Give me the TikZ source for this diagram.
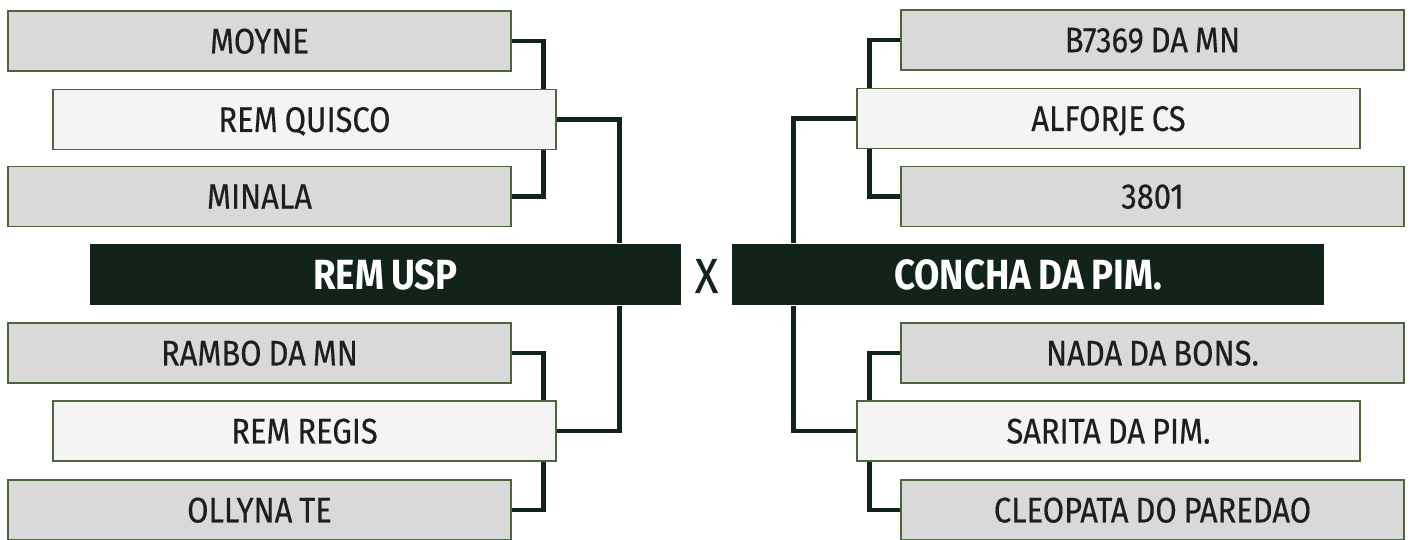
\documentclass[tikz,border=0pt]{standalone}
\usepackage{fontspec}
\setmainfont{Fira Sans}[FakeStretch=0.87, WordSpace=0.85, UprightFeatures={FakeBold=0.4}]
\definecolor{pinegreen}{HTML}{12241A}
\definecolor{edgegreen}{HTML}{4E6340}
\definecolor{boxgray}{HTML}{D9D9D9}
\definecolor{boxlight}{HTML}{F4F4F4}
\definecolor{inkgray}{HTML}{1E1E1E}
\tikzset{
	entry/.style={draw=edgegreen, line width=0.4pt, fill=boxgray, text=inkgray, inner sep=0pt, text depth=0pt,
		minimum width=5.03cm, minimum height=0.60cm, font=\fontsize{10.1}{12}\selectfont},
	winner/.style={entry, fill=boxlight},
	finalist/.style={fill=pinegreen, text=white, inner sep=0pt, text depth=0pt,
		minimum width=5.91cm, minimum height=0.61cm, font=\fontsize{12}{14}\selectfont\bfseries},
	link/.style={draw=pinegreen, line width=1.4pt}
}

\begin{document}
\begin{tikzpicture}[x=0.01cm, y=-0.01cm]
			%%%%% START %%%%%
			\useasboundingbox (0, 0) rectangle (1411, 540);
			
			% left bracket
			\node[entry] (moyne) at (259.5, 41) {MOYNE};
			\node[winner] (quisco) at (304.5, 119.5) {REM QUISCO};
			\node[entry] (minala) at (259.5, 196.5) {MINALA};
			\node[finalist] (remusp) at (385.5, 274.5) {REM USP};
			\node[entry] (rambo) at (259.5, 353) {RAMBO DA MN};
			\node[winner] (regis) at (304.5, 431) {REM REGIS};
			\node[entry] (ollyna) at (259.5, 510) {OLLYNA TE};
			
			% right bracket
			\node[entry] (bseven) at (1152.5, 40) {B7369 DA MN};
			\node[winner] (alforje) at (1108.5, 118.5) {ALFORJE CS};
			\node[entry] (bthree) at (1152.5, 196.5) {3801};
			\node[finalist] (concha) at (1028, 274.5) {CONCHA DA PIM.};
			\node[entry] (nada) at (1152.5, 353) {NADA DA BONS.};
			\node[winner] (sarita) at (1108.5, 431) {SARITA DA PIM.};
			\node[entry] (cleo) at (1152.5, 510) {CLEOPATA DO PAREDAO};
			
			\node[text=pinegreen, font=\fontsize{14}{16}\selectfont] (versus) at (706.5, 276) {X};
			
			\draw[link] (moyne.east) -| ([shift={(-13, 0)}]quisco.north east);
			\draw[link] (minala.east) -| ([shift={(-13, 0)}]quisco.south east);
			\draw[link] (rambo.east) -| ([shift={(-13, 0)}]regis.north east);
			\draw[link] (ollyna.east) -| ([shift={(-13, 0)}]regis.south east);
			\draw[link] (quisco.east) -| ([shift={(-62, 0)}]remusp.north east);
			\draw[link] (regis.east) -| ([shift={(-62, 0)}]remusp.south east);
			
			\draw[link] (bseven.west) -| ([shift={(13, 0)}]alforje.north west);
			\draw[link] (bthree.west) -| ([shift={(13, 0)}]alforje.south west);
			\draw[link] (nada.west) -| ([shift={(13, 0)}]sarita.north west);
			\draw[link] (cleo.west) -| ([shift={(13, 0)}]sarita.south west);
			\draw[link] (alforje.west) -| ([shift={(62, 0)}]concha.north west);
			\draw[link] (sarita.west) -| ([shift={(62, 0)}]concha.south west);
			
			%%%%% END %%%%%
\end{tikzpicture}
\end{document}
